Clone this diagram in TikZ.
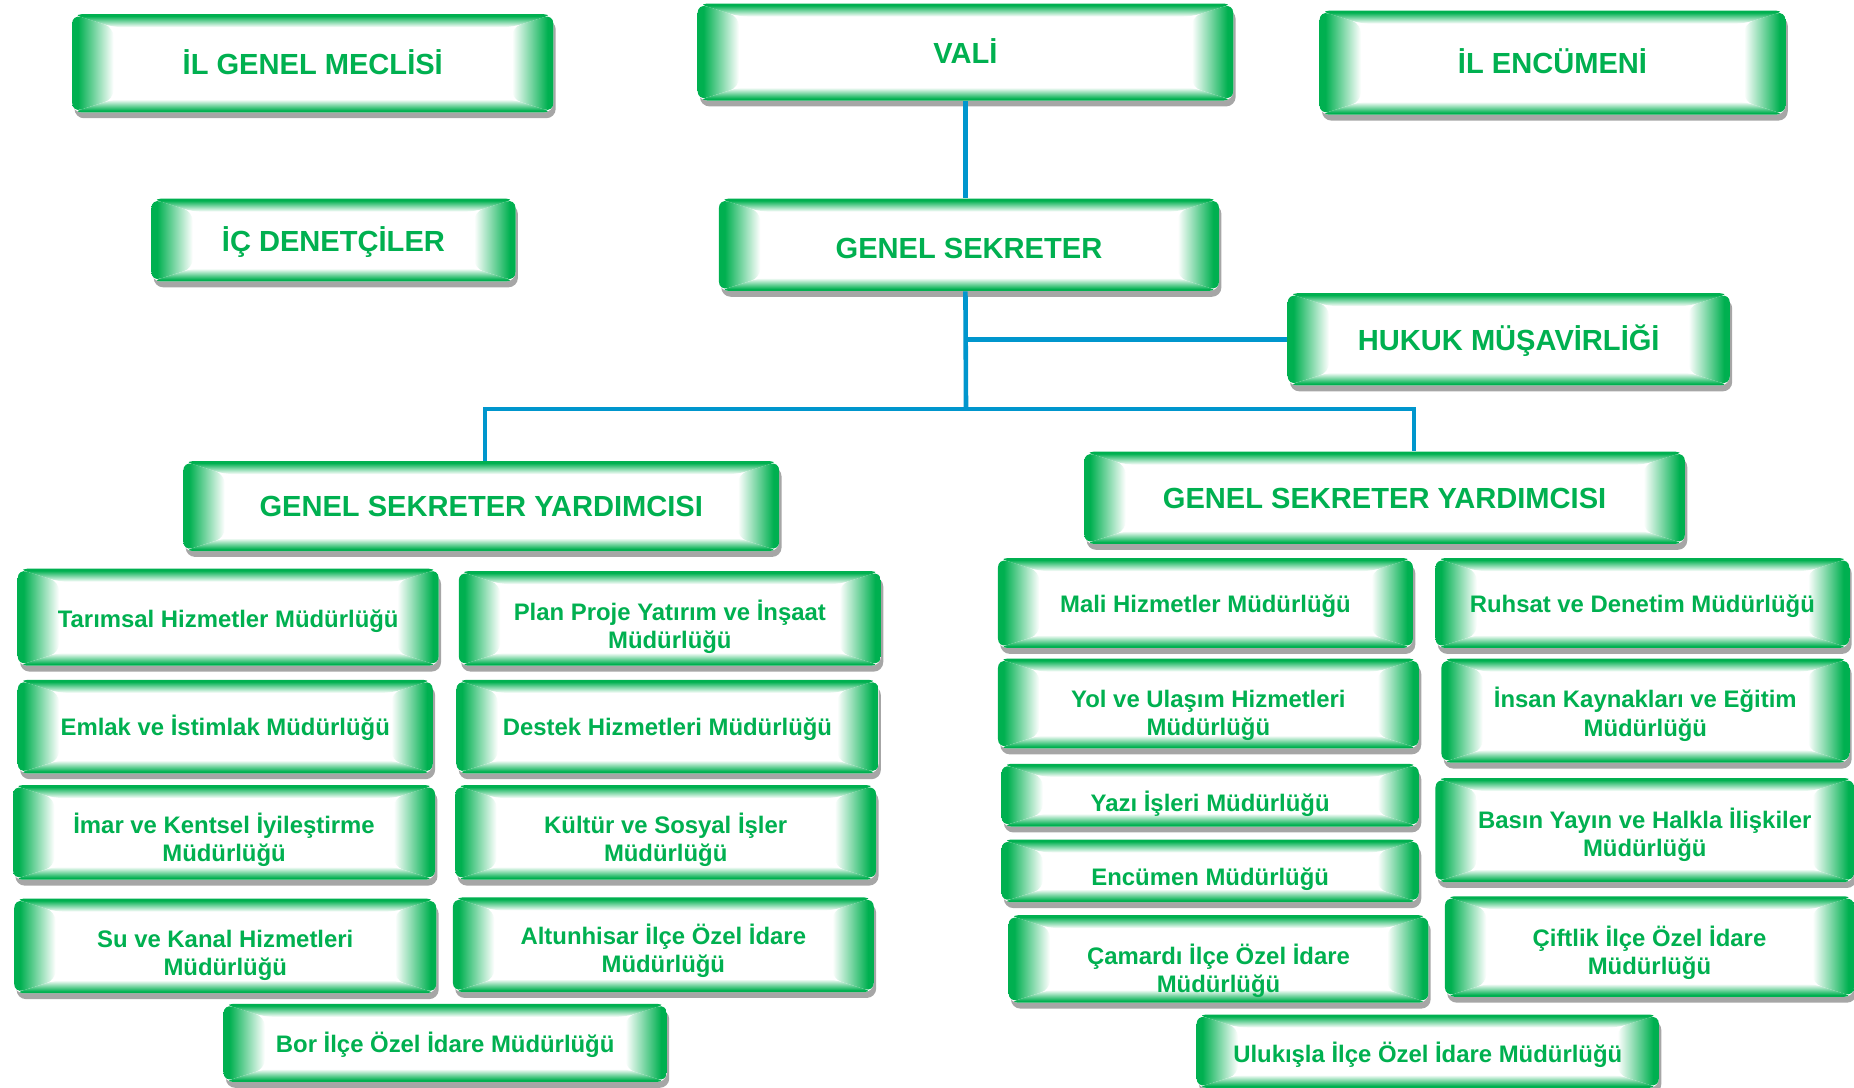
\documentclass[tikz,border=0pt]{standalone}
\usepackage{fontspec}
\setmainfont{Liberation Sans}
\usepackage{tikz}
\usetikzlibrary{positioning, calc, shadows}

\definecolor{boxgreen}{RGB}{0,176,80}
\definecolor{lineblue}{RGB}{0,150,205}
\pgfdeclarehorizontalshading{band}{100bp}{color(0bp)=(boxgreen); color(25bp)=(boxgreen); color(32bp)=(boxgreen); color(75bp)=(white); color(100bp)=(white)}
\def\bw{0.7cm}
\def\bh{0.22cm}

\newcommand\greenframe{%
	\coordinate (fsw) at (path picture bounding box.south west);
	\coordinate (fne) at (path picture bounding box.north east);
	\coordinate (fnw) at (path picture bounding box.north west);
	\coordinate (fse) at (path picture bounding box.south east);
	\begin{scope}
		\clip (fsw) -- ([shift={(\bw,\bh)}]fsw) -- ([shift={(\bw,-\bh)}]fnw) -- (fnw) -- cycle;
		\shade[shading=band] (fsw) rectangle ([xshift=\bw]fnw);
	\end{scope}
	\begin{scope}
		\clip (fse) -- ([shift={(-\bw,\bh)}]fse) -- ([shift={(-\bw,-\bh)}]fne) -- (fne) -- cycle;
		\shade[shading=band, shading angle=180] ([xshift=-\bw]fse) rectangle (fne);
	\end{scope}
	\begin{scope}
		\clip (fnw) -- ([shift={(\bw,-\bh)}]fnw) -- ([shift={(-\bw,-\bh)}]fne) -- (fne) -- cycle;
		\shade[shading=band, shading angle=270] ([yshift=-\bh]fnw) rectangle (fne);
	\end{scope}
	\begin{scope}
		\clip (fsw) -- ([shift={(\bw,\bh)}]fsw) -- ([shift={(-\bw,\bh)}]fse) -- (fse) -- cycle;
		\shade[shading=band, shading angle=90] (fsw) rectangle ([yshift=\bh]fse);
	\end{scope}
}

\tikzset{
	box/.style 2 args={rounded corners=0.16cm, fill=white, minimum width=#1*0.02cm, minimum height=#2*0.02cm,
		inner sep=0pt, drop shadow={shadow xshift=0.04cm, shadow yshift=-0.1cm, fill=black!35, opacity=1},
		path picture={\greenframe}},
	boxtext/.style={align=center, text=boxgreen, inner sep=0pt, font=\bfseries\fontsize{11.5}{13.6}\selectfont},
	say/.style 2 args={label={[boxtext, yshift=-#1*0.02cm]center:#2}},
	hsay/.style 2 args={label={[boxtext, font=\bfseries\fontsize{14}{16}\selectfont, yshift=-#1*0.02cm]center:#2}},
	link/.style={draw=lineblue, line width=2.2pt}
}

\begin{document}
\begin{tikzpicture}[x=0.02cm, y=-0.02cm]
	\useasboundingbox (0,0) rectangle (1568,920);

	\node[box={407}{83}, hsay={-1}{İL GENEL MECLİSİ}] (meclis) at (264.5,53.5) {};
	\node[box={453}{82}, hsay={-1}{VALİ}] (vali) at (816.5,44) {};
	\node[box={394}{88}, hsay={-1}{İL ENCÜMENİ}] (encumeni) at (1313,53) {};
	\node[box={308}{70}, hsay={2}{İÇ DENETÇİLER}] (denetci) at (282,203) {};
	\node[box={423}{78}, hsay={3}{GENEL SEKRETER}] (gensek) at (819.5,207) {};
	\node[box={374}{78}, hsay={1}{HUKUK MÜŞAVİRLİĞİ}] (hukuk) at (1276,287) {};
	\node[box={504}{76}, hsay={0}{GENEL SEKRETER YARDIMCISI}] (yardL) at (407,428) {};
	\node[box={508}{78}, hsay={1}{GENEL SEKRETER YARDIMCISI}] (yardR) at (1171,421) {};

	\node[box={356}{82}, say={3}{Tarımsal Hizmetler Müdürlüğü}] (tarim) at (193,522) {};
	\node[box={357}{80}, say={7}{Plan Proje Yatırım ve İnşaat\\Müdürlüğü}] (plan) at (566.5,523) {};
	\node[box={351}{79}, say={1}{Emlak ve İstimlak Müdürlüğü}] (emlak) at (190.5,614.5) {};
	\node[box={357}{79}, say={2}{Destek Hizmetleri Müdürlüğü}] (destek) at (564.5,614.5) {};
	\node[box={357}{80}, say={6}{İmar ve Kentsel İyileştirme\\Müdürlüğü}] (imar) at (189.5,704) {};
	\node[box={356}{80}, say={6}{Kültür ve Sosyal İşler\\Müdürlüğü}] (kultur) at (563,704) {};
	\node[box={357}{80}, say={8}{Su ve Kanal Hizmetleri\\Müdürlüğü}] (su) at (190.5,800) {};
	\node[box={356}{80}, say={5}{Altunhisar İlçe Özel İdare\\Müdürlüğü}] (altun) at (561,799) {};
	\node[box={375}{66}, say={2}{Bor İlçe Özel İdare Müdürlüğü}] (bor) at (376.5,882) {};

	\node[box={351}{76}, say={3}{Mali Hizmetler Müdürlüğü}] (mali) at (1019.5,510) {};
	\node[box={350}{76}, say={3}{Ruhsat ve Denetim Müdürlüğü}] (ruhsat) at (1389,510) {};
	\node[box={356}{76}, say={10}{Yol ve Ulaşım Hizmetleri\\Müdürlüğü}] (yol) at (1022,595) {};
	\node[box={345}{88}, say={3}{İnsan Kaynakları ve Eğitim\\Müdürlüğü}] (insan) at (1391.5,601) {};
	\node[box={353}{53}, say={7}{Yazı İşleri Müdürlüğü}] (yazi) at (1023.5,672.5) {};
	\node[box={353}{53}, say={7}{Encümen Müdürlüğü}] (encmud) at (1023.5,736.5) {};
	\node[box={354}{88}, say={4}{Basın Yayın ve Halkla İlişkiler\\Müdürlüğü}] (basin) at (1391,702) {};
	\node[box={355}{74}, say={10}{Çamardı İlçe Özel İdare\\Müdürlüğü}] (camardi) at (1030.5,811) {};
	\node[box={346}{85}, say={5}{Çiftlik İlçe Özel İdare\\Müdürlüğü}] (ciftlik) at (1395,800.5) {};
	\node[box={391}{62}, say={3}{Ulukışla İlçe Özel İdare Müdürlüğü}] (ulukisla) at (1207.5,889) {};

	\coordinate (bus) at (817,346);
	\draw[link] (vali.south) -- (vali.south |- gensek.north);
	\draw[link] (vali.south |- gensek.south) -- (bus);
	\draw[link] (bus |- hukuk.west) -- (hukuk.west);
	\draw[link] ([xshift=0.06cm]yardL.north) |- (bus) -| ([xshift=0.5cm]yardR.north);
\end{tikzpicture}
\end{document}
